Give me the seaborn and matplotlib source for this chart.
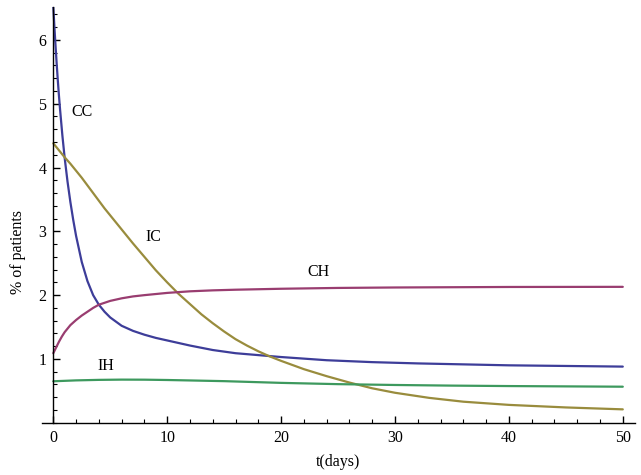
import pandas as pd
import matplotlib
matplotlib.use("Agg")
import matplotlib.pyplot as plt
from matplotlib.ticker import MultipleLocator
import seaborn as sns

# -----------------------------
# Data
# -----------------------------
t_cc = [0, 0.1, 0.2, 0.3, 0.4, 0.5, 0.6, 0.8, 1.0, 1.25, 1.5, 1.75, 2, 2.5,
        3, 3.5, 4, 4.5, 5, 6, 7, 8, 9, 10, 12, 14, 16, 18, 20, 24, 28, 32,
        36, 40, 45, 50]
cc = [6.52, 6.2, 5.9, 5.62, 5.36, 5.12, 4.9, 4.5, 4.15, 3.78, 3.46, 3.18,
      2.93, 2.52, 2.22, 2.0, 1.85, 1.74, 1.65, 1.52, 1.44, 1.38, 1.33, 1.29,
      1.21, 1.14, 1.09, 1.06, 1.03, 0.98, 0.95, 0.93, 0.915, 0.9, 0.89, 0.88]

t_ic = [0, 0.5, 1, 1.5, 2, 2.5, 3, 3.5, 4, 4.5, 5, 6, 7, 8, 9, 10, 11, 12,
        13, 14, 15, 16, 17, 18, 19, 20, 22, 24, 26, 28, 30, 33, 36, 40, 45, 50]
ic = [4.38, 4.27, 4.16, 4.06, 3.95, 3.84, 3.72, 3.6, 3.48, 3.36, 3.25, 3.03,
      2.81, 2.6, 2.39, 2.2, 2.02, 1.86, 1.7, 1.56, 1.43, 1.31, 1.21, 1.12,
      1.04, 0.97, 0.84, 0.73, 0.63, 0.54, 0.47, 0.39, 0.33, 0.28, 0.24, 0.21]

t_ch = [0, 0.25, 0.5, 0.75, 1, 1.5, 2, 2.5, 3, 3.5, 4, 5, 6, 7, 8, 10, 12,
        14, 16, 20, 25, 30, 40, 50]
ch = [1.09, 1.18, 1.27, 1.35, 1.42, 1.53, 1.61, 1.68, 1.74, 1.8, 1.85, 1.91,
      1.95, 1.98, 2.0, 2.035, 2.06, 2.075, 2.085, 2.1, 2.113, 2.12, 2.128, 2.13]

t_ih = [0, 2, 4, 6, 8, 10, 12, 15, 20, 25, 30, 35, 40, 45, 50]
ih = [0.65, 0.664, 0.672, 0.676, 0.675, 0.67, 0.663, 0.652, 0.625, 0.605,
      0.592, 0.582, 0.575, 0.57, 0.565]

series = ["CC", "IC", "CH", "IH"]
colors = [(0.24, 0.24, 0.6), (0.6, 0.55, 0.24), (0.6, 0.24, 0.44), (0.24, 0.6, 0.37)]

# label positions (t, value)
label_t = [2.5, 8.8, 23.3, 4.6]
label_y = [4.87, 2.91, 2.36, 0.89]

df = pd.concat([
    pd.DataFrame({"t": tt, "value": vv, "group": name})
    for name, tt, vv in zip(series, [t_cc, t_ic, t_ch, t_ih], [cc, ic, ch, ih])
], ignore_index=True)

# -----------------------------
# Plot
# -----------------------------
sns.set_style("ticks")
plt.rcParams["font.family"] = ["Liberation Serif", "DejaVu Serif"]
for key in ["text.color", "axes.labelcolor", "xtick.color", "ytick.color",
            "axes.edgecolor"]:
    plt.rcParams[key] = "black"

fig = plt.figure(figsize=(6.41, 4.75), dpi=100)
ax = fig.add_axes([0.065, 0.110, 0.9256, 0.8758])

sns.lineplot(data=df, x="t", y="value", hue="group", hue_order=series,
             palette=colors, linewidth=1.6, legend=False, sort=True, ax=ax)

for name, lx, ly in zip(series, label_t, label_y):
    ax.text(lx, ly, name, fontsize=11.5, ha="center", va="center")

ax.set_xlim(-1.02, 51.07)
ax.set_ylim(0, 6.52)

ax.spines["left"].set_position(("data", 0))
ax.spines["top"].set_visible(False)
ax.spines["right"].set_visible(False)
for s in ["left", "bottom"]:
    ax.spines[s].set_linewidth(1.0)

ax.set_xticks([0, 10, 20, 30, 40, 50])
ax.set_yticks([1, 2, 3, 4, 5, 6])
ax.xaxis.set_minor_locator(MultipleLocator(2))
ax.yaxis.set_minor_locator(MultipleLocator(0.2))
ax.tick_params(which="major", direction="in", length=5, width=1.0,
               labelsize=11.5, pad=5)
ax.tick_params(which="minor", direction="in", length=3, width=0.8)

ax.set_xlabel("t(days)", fontsize=11.5, labelpad=6)
ax.set_ylabel("")
fig.text(0.028, 0.47, "% of patients", rotation=90, fontsize=11.5,
         ha="center", va="center")

fig.savefig("out.png", dpi=100)
